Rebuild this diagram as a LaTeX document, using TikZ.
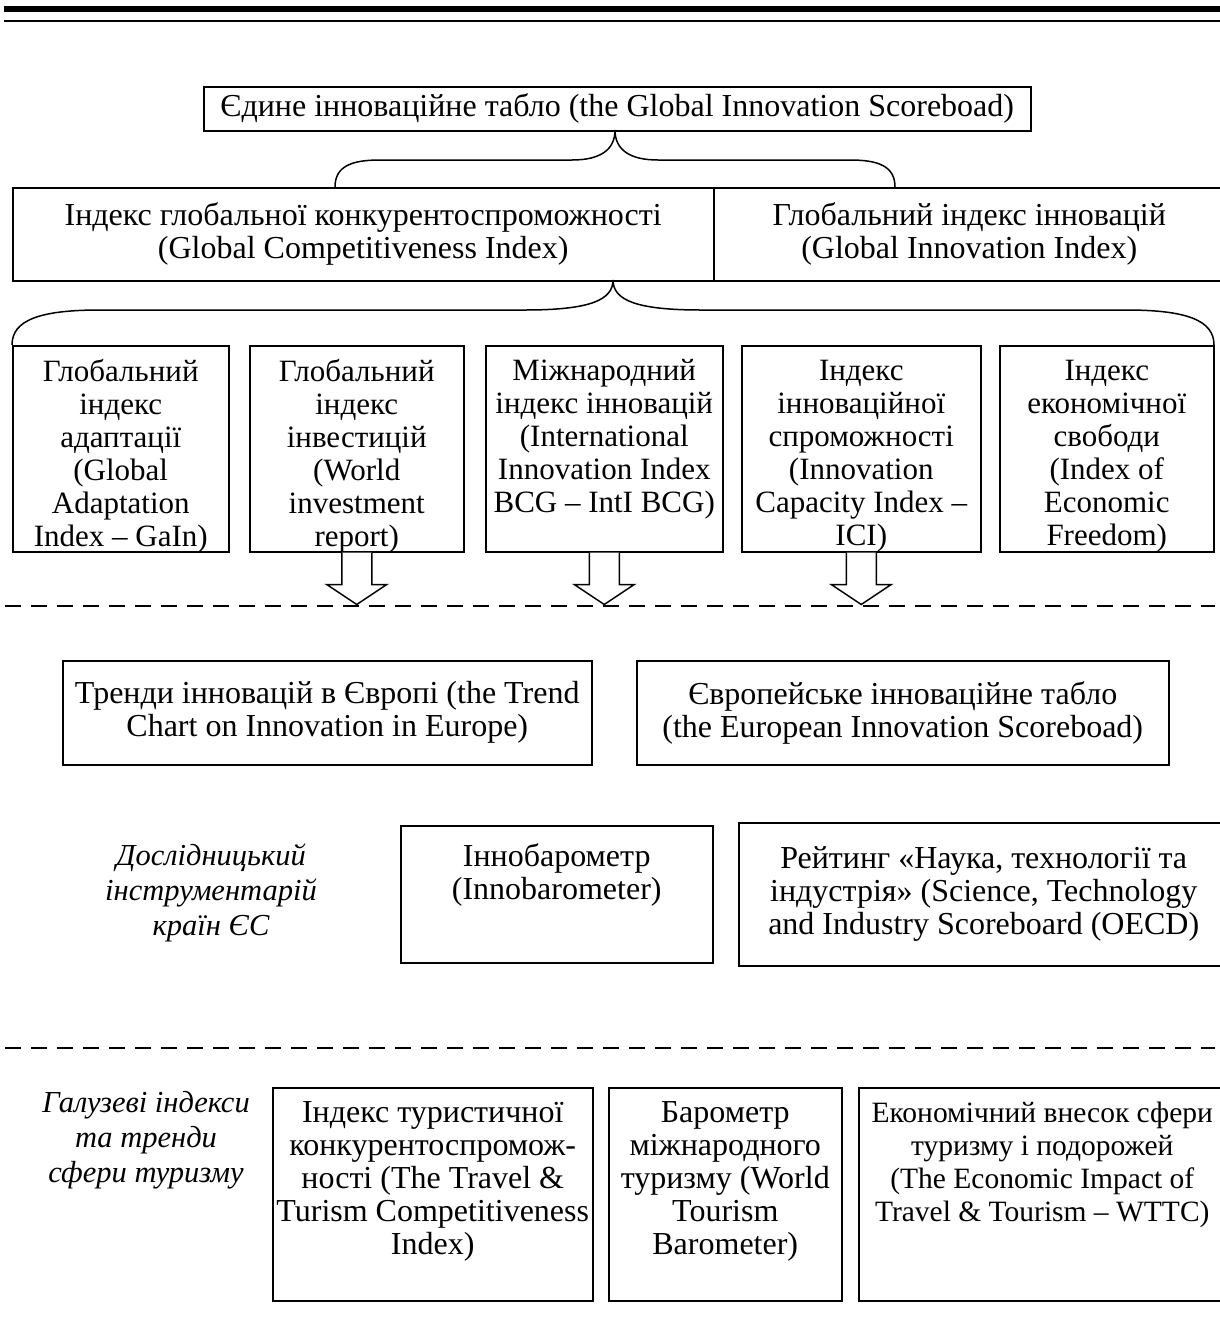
\documentclass[tikz,border=0pt]{standalone}
\usepackage{fontspec}
\setmainfont{Liberation Serif}
\newcommand\cell[4][c]{\parbox[c][#3][#1]{#2}{\centering #4\par}}
\begin{document}
\fontsize{32}{33}\selectfont
\begin{tikzpicture}[x=1pt,y=-1pt,
  box/.style={draw, line width=1.5pt, inner sep=0pt, anchor=north west},
  lbl/.style={align=center, font=\fontsize{30.5}{35}\selectfont\itshape, inner sep=0pt},
  brace/.style={line width=1.5pt},
  sepline/.style={line width=1.8pt, dash pattern=on 16pt off 10pt},
  hollow/.style={line width=1.5pt, fill=white}]
\useasboundingbox (0,0) rectangle (1219,1336);

\draw [line width=6pt] (4,9) -- (1240,9);
\draw [line width=2.5pt] (4,21) -- (1240,21);

% top level
\node [box] (top) at (203,86) {\cell{827pt}{44pt}{Єдине інноваційне табло (the Global Innovation Scoreboad)}};

\node [box] (gci) at (12,187) {\cell{701pt}{93pt}{Індекс глобальної конкурентоспроможності\\(Global Competitiveness Index)}};
\node [box] (gii) at (713,187) {\cell{511pt}{93pt}{Глобальний індекс інновацій\\(Global Innovation Index)}};

\draw [brace] (335,187) .. controls (335,166) and (352,160) .. (380,160) -- (572,160)
  .. controls (600,160) and (615,150) .. (615,130)
  .. controls (615,150) and (630,160) .. (658,160) -- (850,160)
  .. controls (878,160) and (895,166) .. (895,187);

\draw [brace] (12,345) .. controls (12,320) and (40,310) .. (100,310) -- (525,310)
  .. controls (590,310) and (613,300) .. (613,280)
  .. controls (613,300) and (636,310) .. (701,310) -- (1126,310)
  .. controls (1186,310) and (1214,320) .. (1214,345);

% world indices
\node [box] (g1) at (12,345) {\cell[t]{216pt}{206pt}{\fontsize{31}{33}\selectfont\vspace*{14pt}Глобальний\\індекс\\адаптації\\(Global\\Adaptation\\Index – GaIn)}};
\node [box] (g2) at (249,345) {\cell[t]{214pt}{206pt}{\fontsize{31}{33}\selectfont\vspace*{14pt}Глобальний\\індекс\\інвестицій\\(World\\investment\\report)}};
\node [box] (g3) at (485,345) {\cell[t]{237pt}{206pt}{\fontsize{31}{33}\selectfont\vspace*{14pt}Міжнародний\\індекс інновацій\\(International\\Innovation Index\\BCG – IntI BCG)}};
\node [box] (g4) at (741,345) {\cell[t]{239pt}{206pt}{\fontsize{31}{33}\selectfont\vspace*{14pt}Індекс\\інноваційної\\спроможності\\(Innovation\\Capacity Index –\\ICI)}};
\node [box] (g5) at (999,345) {\cell[t]{214pt}{206pt}{\fontsize{31}{33}\selectfont\vspace*{14pt}Індекс\\економічної\\свободи\\(Index of\\Economic\\Freedom)}};

\foreach \b in {g2,g3,g4}
  \draw [hollow] (\b.south) ++(-15,0) -- ++(0,32) -- ++(-15,0) -- ++(30,20) -- ++(30,-20) -- ++(-15,0) -- ++(0,-32);

\draw [sepline] (5,606) -- (1215,606);

% EU level
\node [box] (trend) at (62,660) {\cell{529pt}{104pt}{Тренди інновацій в Європі (the Trend\\Chart on Innovation in Europe)}};
\node [box] (eis) at (636,660) {\cell{532pt}{104pt}{Європейське інноваційне табло\\(the European Innovation Scoreboad)}};

\node [lbl] (eu) at (211,893) {Дослідницький\\інструментарій\\країн ЄС};
\node [box] (inno) at (400,825) {\cell[t]{312pt}{137pt}{\vspace*{18pt}Іннобарометр\\(Innobarometer)}};
\node [box] (sti) at (738,822) {\cell{490pt}{143pt}{Рейтинг «Наука, технології та\\індустрія» (Science, Technology\\and Industry Scoreboard (OECD)}};

\draw [sepline] (5,1048) -- (1215,1048);

% tourism
\node [lbl] (tour) at (146,1140) {Галузеві індекси\\та тренди\\сфери туризму};
\node [box] (ttci) at (272,1087) {\cell[t]{320pt}{213pt}{\vspace*{14pt}Індекс туристичної\\конкурентоспромож-\\ності (The Travel \&\\Turism Competitiveness\\Index)}};
\node [box] (wtb) at (608,1087) {\cell[t]{233pt}{213pt}{\vspace*{14pt}Барометр\\міжнародного\\туризму (World\\Tourism\\Barometer)}};
\node [box] (wttc) at (858,1087) {\cell[t]{367pt}{213pt}{\fontsize{29.5}{33}\selectfont\vspace*{14pt}Економічний внесок сфери\\туризму і подорожей\\(The Economic Impact of\\Travel \& Tourism – WTTC)}};
\end{tikzpicture}
\end{document}
